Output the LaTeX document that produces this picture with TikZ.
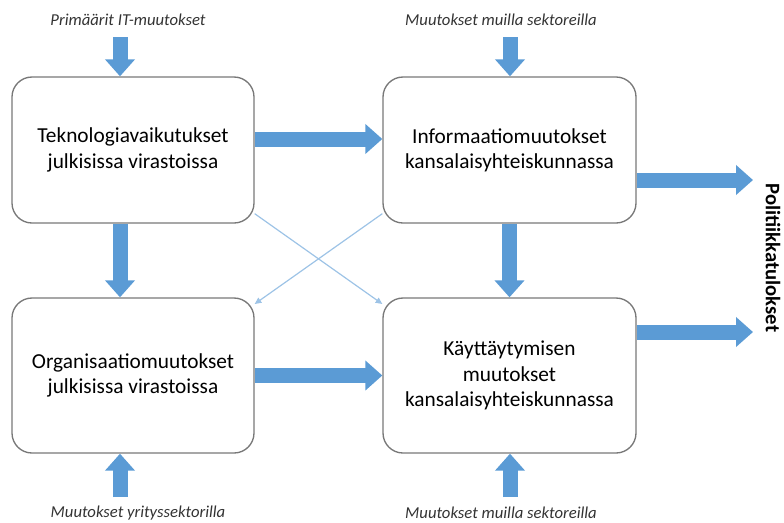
\documentclass[tikz,border=0pt]{standalone}
\usepackage{fontspec}
\setmainfont{Carlito}
\usetikzlibrary{arrows.meta}

\definecolor{blockblue}{RGB}{91,155,213}
\definecolor{lineblue}{RGB}{157,195,230}
\definecolor{boxgray}{RGB}{120,120,120}

\tikzset{every picture/.style={line width=0.75pt}}
\tikzset{
  box/.style={draw=boxgray, line width=1pt, rounded corners=15pt, align=center,
    minimum width=181.5pt, minimum height=109.5pt, inner sep=0pt,
    font=\fontsize{16}{19}\selectfont},
  widebox/.style={minimum width=189.75pt},
  tallbox/.style={minimum height=116.25pt},
  inlabel/.style={font=\fontsize{12.5}{14}\selectfont\itshape, text=black!80},
  blockarrow/.style={draw=blockblue, line width=11.25pt,
    -{Triangle[length=12.75pt,width=21.75pt,fill=blockblue]}},
  crossarrow/.style={draw=lineblue, line width=0.9pt,
    -{Triangle[length=5pt,width=4.5pt]}}
}

\begin{document}
\begin{tikzpicture}[x=0.75pt,y=0.75pt,yscale=-1,xscale=1]
	\useasboundingbox (0,0) rectangle (784,522);

	% Boxes
	\node[box] (tek) at (133,150) {Teknologiavaikutukset\\julkisissa virastoissa};
	\node[box, widebox] (info) at (509.5,150) {Informaatiomuutokset\\kansalaisyhteiskunnassa};
	\node[box, tallbox] (org) at (133,375.5) {Organisaatiomuutokset\\julkisissa virastoissa};
	\node[box, widebox, tallbox] (kay) at (509.5,375.5) {Käyttäytymisen\\muutokset\\kansalaisyhteiskunnassa};

	% Outside labels
	\node[inlabel] (prim) at (128,20) {Primäärit IT-muutokset};
	\node[inlabel] (muutop) at (501,20) {Muutokset muilla sektoreilla};
	\node[inlabel] (yrit) at (138,513) {Muutokset yrityssektorilla};
	\node[inlabel] (muutbot) at (501,513) {Muutokset muilla sektoreilla};
	\node[rotate=-90, font=\fontsize{15.5}{17}\selectfont\bfseries] (pol) at (773,258) {Politiikkatulokset};

	% Free ends
	\coordinate (in1) at (120,37);
	\coordinate (in2) at (510,37);
	\coordinate (in3) at (120,497);
	\coordinate (in4) at (510,497);
	\coordinate (out1) at (753,180);
	\coordinate (out2) at (753,332);

	% Inputs
	\draw[blockarrow] (in1) -- (in1 |- tek.north);
	\draw[blockarrow] (in2) -- (in2 |- info.north);
	\draw[blockarrow] (in3) -- (in3 |- org.south);
	\draw[blockarrow] (in4) -- (in4 |- kay.south);

	% Between boxes
	\draw[blockarrow] ([yshift=-8.25pt]tek.east) -- ([yshift=-8.25pt]info.west);
	\draw[blockarrow] ([xshift=-9.75pt]tek.south) -- ([xshift=-9.75pt]org.north);
	\draw[blockarrow] (info.south) -- (kay.north);
	\draw[blockarrow] (org.east) -- (kay.west);

	% Outputs
	\draw[blockarrow] (info.east |- out1) -- (out1);
	\draw[blockarrow] (kay.east |- out2) -- (out2);

	% Cross links
	\draw[crossarrow] ([yshift=-7.5pt]tek.south east) -- ([yshift=5pt]kay.north west);
	\draw[crossarrow] ([yshift=-7.5pt]info.south west) -- ([yshift=5pt]org.north east);

\end{tikzpicture}
\end{document}
